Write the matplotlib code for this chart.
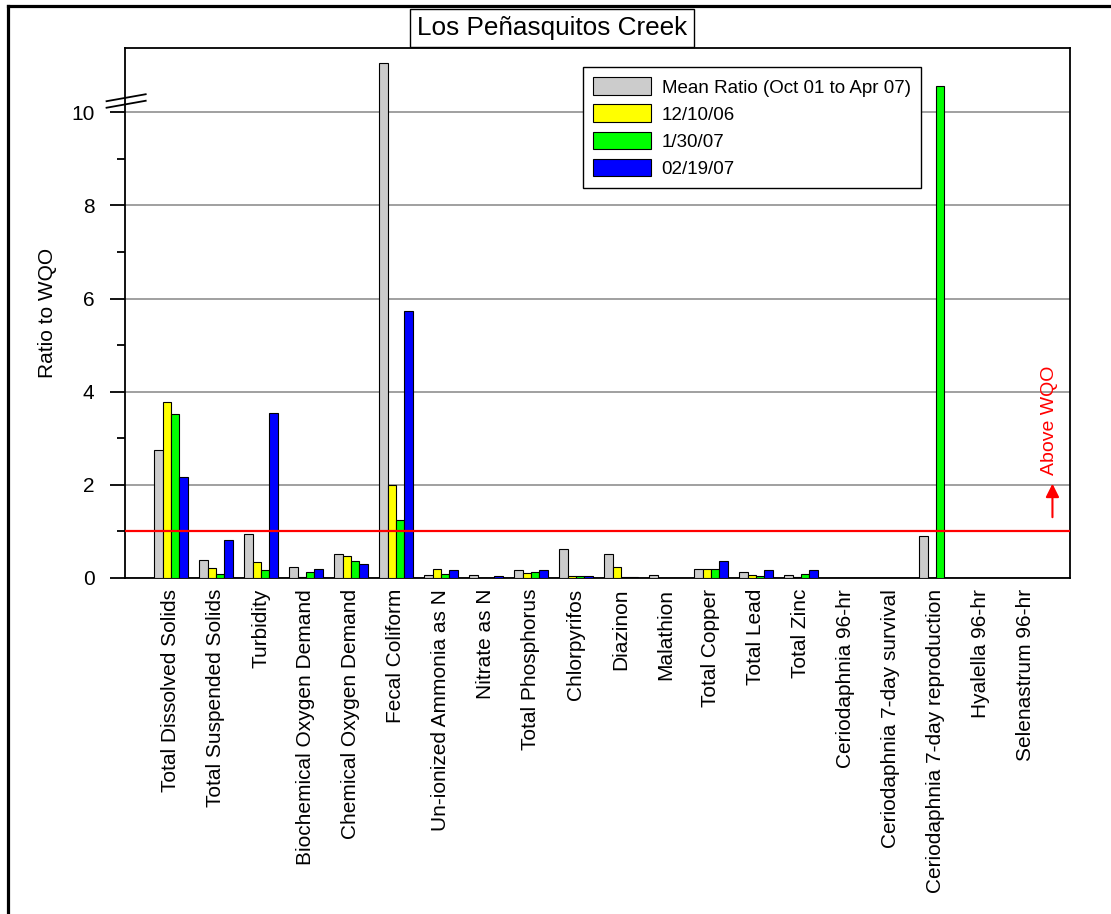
import matplotlib
matplotlib.use('Agg')
import matplotlib.pyplot as plt
from matplotlib.lines import Line2D
import numpy as np

plt.rcParams['font.family'] = ['Liberation Sans', 'DejaVu Sans']

categories = ['Total Dissolved Solids', 'Total Suspended Solids', 'Turbidity',
              'Biochemical Oxygen Demand', 'Chemical Oxygen Demand', 'Fecal Coliform',
              'Un-ionized Ammonia as N', 'Nitrate as N', 'Total Phosphorus',
              'Chlorpyrifos', 'Diazinon', 'Malathion', 'Total Copper', 'Total Lead',
              'Total Zinc', 'Ceriodaphnia 96-hr', 'Ceriodaphnia 7-day survival',
              'Ceriodaphnia 7-day reproduction', 'Hyalella 96-hr', 'Selenastrum 96-hr']

mean_ratio = [2.75, 0.37, 0.94, 0.24, 0.51, 11.07, 0.05, 0.05, 0.17, 0.62,
              0.50, 0.05, 0.19, 0.13, 0.05, 0, 0, 0.89, 0, 0]
d_121006 = [3.77, 0.20, 0.34, 0.02, 0.47, 1.99, 0.19, 0, 0.10, 0.04,
            0.24, 0, 0.19, 0.06, 0.02, 0, 0, 0, 0, 0]
d_013007 = [3.52, 0.09, 0.17, 0.12, 0.36, 1.24, 0.08, 0, 0.12, 0.04,
            0.01, 0, 0.19, 0.03, 0.07, 0, 0, 10.56, 0, 0]
d_021907 = [2.16, 0.80, 3.54, 0.19, 0.30, 5.74, 0.16, 0.04, 0.17, 0.04,
            0.01, 0, 0.36, 0.16, 0.17, 0, 0, 0, 0, 0]

series = [mean_ratio, d_121006, d_013007, d_021907]
labels = ['Mean Ratio (Oct 01 to Apr 07)', '12/10/06', '1/30/07', '02/19/07']
colors = ['#cccccc', '#ffff00', '#00ff00', '#0000ff']

fig = plt.figure(figsize=(11.11, 9.14), dpi=100)
ax = fig.add_axes([125/1111, 1-577.7/914, 945/1111, 530/914])

x = np.arange(len(categories))
w = 0.185
for i, (vals, lab, col) in enumerate(zip(series, labels, colors)):
    ax.bar(x + (i - 1.5) * w, vals, w, color=col, edgecolor='black',
           linewidth=0.8, label=lab, zorder=3)

ax.set_xlim(-1.02, 19.98)
ax.set_ylim(0, 11.39)
ax.set_yticks([0, 2, 4, 6, 8, 10])
ax.set_yticks([1, 3, 5, 7, 9], minor=True)
ax.yaxis.grid(True, which='major', color='#999999', linewidth=1.3, zorder=0)
ax.set_axisbelow(True)
ax.tick_params(axis='y', which='major', length=11, width=1.3, labelsize=15, pad=11)
ax.tick_params(axis='y', which='minor', length=5.5, width=1.3)
ax.set_xticks(x)
ax.set_xticklabels(categories, rotation=90, fontsize=15)
ax.tick_params(axis='x', length=0, pad=8)
for s in ax.spines.values():
    s.set_linewidth(1.3)
ax.set_ylabel('Ratio to WQO', fontsize=15, labelpad=10)

ax.axhline(1, color='red', linewidth=1.6, zorder=4)

# axis break marks
ax.plot([-1.43, -0.56], [10.24, 10.39], color='black', lw=1.3, clip_on=False, zorder=5)
ax.plot([-1.43, -0.56], [10.10, 10.25], color='black', lw=1.3, clip_on=False, zorder=5)

ax.annotate('', xy=(19.59, 2.08), xytext=(19.59, 1.24),
            arrowprops=dict(arrowstyle='-|>', color='red', lw=1.5, mutation_scale=20))
ax.text(19.53, 3.39, 'Above WQO', color='red', rotation=90, ha='center',
        va='center', fontsize=14)

leg = ax.legend(loc='upper left', bbox_to_anchor=(583/1111, 1-67/914),
                bbox_transform=fig.transFigure, fontsize=13.5, fancybox=False,
                edgecolor='black', framealpha=1, handlelength=3.05,
                handleheight=1.08, labelspacing=0.42, borderpad=0.55,
                handletextpad=0.6, borderaxespad=0)
leg.get_frame().set_linewidth(1.0)

fig.text(552/1111, 1-28/914, 'Los Peñasquitos Creek', fontsize=18.8, ha='center',
         va='center', bbox=dict(boxstyle='square,pad=0.25', fc='white',
                                ec='black', lw=1.0))

fig.add_artist(Line2D([7.5/1111, 1], [1-5.5/914, 1-5.5/914], color='black', lw=2.3))
fig.add_artist(Line2D([7.5/1111, 7.5/1111], [0, 1-5.5/914], color='black', lw=2.3))

fig.savefig('out.png', dpi=100)
